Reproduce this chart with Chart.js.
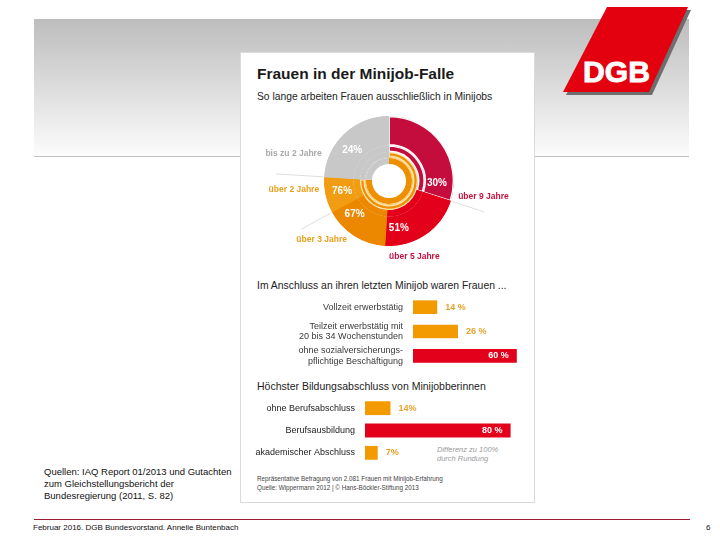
<!DOCTYPE html>
<html>
<head>
<meta charset="utf-8">
<script src="https://cdn.jsdelivr.net/npm/chart.js@4.4.1/dist/chart.umd.min.js"></script>
<style>
  body{margin:0;width:720px;height:540px;position:relative;overflow:hidden;background:#fff;font-family:'Liberation Sans',Arial,sans-serif;}
  .abs{position:absolute;white-space:nowrap;line-height:1;}
  canvas{position:absolute;}
</style>
</head>
<body>
<!-- slide frame -->
<div class="abs" style="left:34px;top:19px;width:655px;height:137px;background:linear-gradient(#bdbdbd,#fcfcfc);border-bottom:1px solid #c2c2c2"></div>
<svg class="abs" style="left:0;top:0" width="720" height="110">
  <polygon points="610,10 691,10 652,95 566,95" fill="#6e6e6e"/>
  <polygon points="607,7 688,7 649,92 563,92" fill="#e3000f"/>
  <text x="583" y="82" fill="#fff" font-family="Liberation Sans, Arial" font-weight="bold" font-size="29" textLength="67" lengthAdjust="spacingAndGlyphs" stroke="#fff" stroke-width="0.8">DGB</text>
</svg>
<div class="abs" style="left:240px;top:52px;width:293px;height:449px;background:#fff;border:1px solid #dadada"></div>

<div class="abs" style="left:257px;top:66px;font-size:15.5px;font-weight:bold;color:#1a1a1a">Frauen in der Minijob-Falle</div>
<div class="abs" style="left:257px;top:92px;font-size:10.3px;color:#222">So lange arbeiten Frauen ausschließlich in Minijobs</div>
<div class="abs" style="left:257px;top:281px;font-size:10.4px;color:#222">Im Anschluss an ihren letzten Minijob waren Frauen ...</div>
<div class="abs" style="left:257px;top:381px;font-size:10.5px;color:#222">Höchster Bildungsabschluss von Minijobberinnen</div>
<div class="abs" style="left:437px;top:446px;font-size:7.5px;font-style:italic;color:#9a9a9a;line-height:8.5px">Differenz zu 100%<br>durch Rundung</div>
<div class="abs" style="left:257px;top:474px;font-size:6.3px;color:#444;line-height:9px">Repräsentative Befragung von 2.081 Frauen mit Minijob-Erfahrung<br>Quelle: Wippermann 2012 | © Hans-Böckler-Stiftung 2013</div>

<div class="abs" style="left:44px;top:466px;font-size:9.5px;color:#111;line-height:12px">Quellen: IAQ Report 01/2013 und Gutachten<br>zum Gleichstellungsbericht der<br>Bundesregierung (2011, S. 82)</div>
<div class="abs" style="left:34px;top:519px;width:656px;height:1px;background:#a01a30"></div>
<div class="abs" style="left:33px;top:524px;font-size:8px;color:#111">Februar 2016. DGB Bundesvorstand. Annelie Buntenbach</div>
<div class="abs" style="left:706px;top:524px;font-size:8px;color:#111">6</div>

<canvas id="donut" width="280" height="160" style="left:249px;top:101px"></canvas>
<canvas id="jobs" width="336" height="73" style="left:250px;top:295px"></canvas>
<canvas id="edu" width="297" height="67" style="left:250px;top:397px"></canvas>

<script>
const FONT = "'Liberation Sans', Arial, sans-serif";

// Dauer im Minijob (kumuliert für "über", Anteil für "bis zu")
const periods = ['über 9 Jahre', 'über 5 Jahre', 'über 3 Jahre', 'über 2 Jahre', 'bis zu 2 Jahre'];
const shares = [30, 51, 67, 76, 24];

// Im Anschluss an den letzten Minijob
const jobLabels = ['Vollzeit erwerbstätig', ['Teilzeit erwerbstätig mit', '20 bis 34 Wochenstunden'], ['ohne sozialversicherungs-', 'pflichtige Beschäftigung']];
const jobValues = [14, 26, 60];

// Höchster Bildungsabschluss
const eduLabels = ['ohne Berufsabschluss', 'Berufsausbildung', 'akademischer Abschluss'];
const eduValues = [14, 80, 7];

const ringColors = ['#c40d3c', '#e2001a', '#ec8700', '#f19c12', '#c8c8c8'];
const labelColors = ['#c2123f', '#c2123f', '#e9a01c', '#e9a01c', '#a8a8a8'];
const BAND = '#ee8f00', BANDLINE = '#f8c867', GREY = ringColors[4];
const BAR_ORANGE = '#f29a00', BAR_RED = '#e3001b', GOLD = '#e6a32e';

// slices of the ring: each "über" step minus the next longer one
const slices = shares.map((v, i) => (i > 0 && i < 4) ? v - shares[i - 1] : v);
const band = [shares[3], shares[4]];

// label placement around the ring (style only)
const outerNudge = [{dx:-5, dy:-8, align:'left'}, {dx:5, dy:-2, align:'left'}, {dx:1, dy:21, align:'center'}, {dx:8, dy:14, align:'right'}, {dx:5, dy:2, align:'right'}];
const leaderLen = [35, 0, 35, 48, 0];

const donutLabels = {
  id: 'donutLabels',
  afterDatasetsDraw(chart) {
    const ctx = chart.ctx;
    const arcs = chart.getDatasetMeta(0).data;
    ctx.save();
    ctx.textBaseline = 'middle';
    arcs.forEach((arc, i) => {
      const {x, y, startAngle, endAngle, outerRadius} = arc.getProps(['x', 'y', 'startAngle', 'endAngle', 'outerRadius']);
      const last = i === arcs.length - 1;
      // leader line along the step boundary
      if (leaderLen[i]) {
        ctx.strokeStyle = '#dedede'; ctx.lineWidth = 1;
        ctx.beginPath();
        ctx.moveTo(x + (outerRadius + 1) * Math.cos(endAngle), y + (outerRadius + 1) * Math.sin(endAngle));
        ctx.lineTo(x + (outerRadius + leaderLen[i]) * Math.cos(endAngle), y + (outerRadius + leaderLen[i]) * Math.sin(endAngle));
        ctx.stroke();
      }
      // percent inside ring
      const a = last ? (startAngle + endAngle) / 2 - 0.12 : endAngle - 0.27;
      ctx.font = 'bold 10px ' + FONT;
      ctx.fillStyle = '#fff';
      ctx.textAlign = 'center';
      ctx.fillText(shares[i] + '%', x + 48 * Math.cos(a), y + 48 * Math.sin(a));
      // category name outside
      const b = last ? startAngle + 0.32 : endAngle;
      const n = outerNudge[i];
      ctx.font = 'bold 8.5px ' + FONT;
      ctx.fillStyle = labelColors[i];
      ctx.textAlign = n.align;
      ctx.fillText(periods[i], x + (outerRadius + 13) * Math.cos(b) + n.dx, y + (outerRadius + 13) * Math.sin(b) + n.dy);
    });
    ctx.restore();
  }
};

new Chart(document.getElementById('donut'), {
  type: 'doughnut',
  data: {
    labels: periods,
    datasets: [
      {data: slices, backgroundColor: ringColors, borderColor: ringColors.map((c, i) => i === 0 ? '#fff' : c), borderWidth: 1, borderAlign: 'inner', weight: 27},
      {data: slices, backgroundColor: ringColors, borderColor: ringColors.map((c, i) => i === 0 ? '#fff' : c), borderWidth: 1, borderAlign: 'inner', weight: 6},
      {data: band, backgroundColor: [BAND, GREY], borderColor: ['#fde3b0', GREY], borderWidth: 1, borderAlign: 'inner', weight: 4.5},
      {data: band, backgroundColor: [BANDLINE, GREY], borderWidth: 0, weight: 1},
      {data: band, backgroundColor: [BAND, GREY], borderWidth: 0, weight: 5.5}
    ]
  },
  options: {
    responsive: false, animation: false, devicePixelRatio: 1,
    radius: 65, cutout: 21,
    layout: {padding: 0},
    plugins: {legend: {display: false}, tooltip: {enabled: false}}
  },
  plugins: [donutLabels]
});

const barValues = {
  id: 'barValues',
  afterDatasetsDraw(chart, args, opts) {
    const ctx = chart.ctx;
    const vals = chart.data.datasets[0].data;
    ctx.save();
    ctx.font = 'bold 9px ' + FONT;
    ctx.textBaseline = 'middle';
    chart.getDatasetMeta(0).data.forEach((bar, i) => {
      const v = vals[i];
      if (v >= 50) {
        ctx.fillStyle = '#fff'; ctx.textAlign = 'right';
        ctx.fillText(v + ' %', bar.x - 8, bar.y);
      } else {
        ctx.fillStyle = GOLD; ctx.textAlign = 'left';
        ctx.fillText(v + opts.suffix, bar.x + 8, bar.y);
      }
    });
    ctx.restore();
  }
};

function makeBars(id, labels, values, axisWidth, barPct, suffix, tickColor) {
  return new Chart(document.getElementById(id), {
    type: 'bar',
    data: {
      labels: labels,
      datasets: [{data: values, backgroundColor: values.map(v => v >= 50 ? BAR_RED : BAR_ORANGE), categoryPercentage: 1, barPercentage: barPct, borderWidth: 0}]
    },
    options: {
      indexAxis: 'y', responsive: false, animation: false, devicePixelRatio: 1,
      layout: {padding: 0},
      plugins: {legend: {display: false}, tooltip: {enabled: false}, barValues: {suffix: suffix}},
      scales: {
        x: {display: false, min: 0, max: 100},
        y: {
          grid: {display: false, drawTicks: false}, border: {display: false},
          ticks: {color: tickColor, padding: 10, autoSkip: false, font: {size: 9, family: FONT, lineHeight: 1.2}},
          afterFit(s) { s.width = axisWidth; s.paddingTop = 0; s.paddingBottom = 0; }
        }
      }
    },
    plugins: [barValues]
  });
}

makeBars('jobs', jobLabels, jobValues, 163, 0.56, ' %', '#3a3a3a');
makeBars('edu', eduLabels, eduValues, 115, 0.62, '%', '#222');
</script>
</body>
</html>
